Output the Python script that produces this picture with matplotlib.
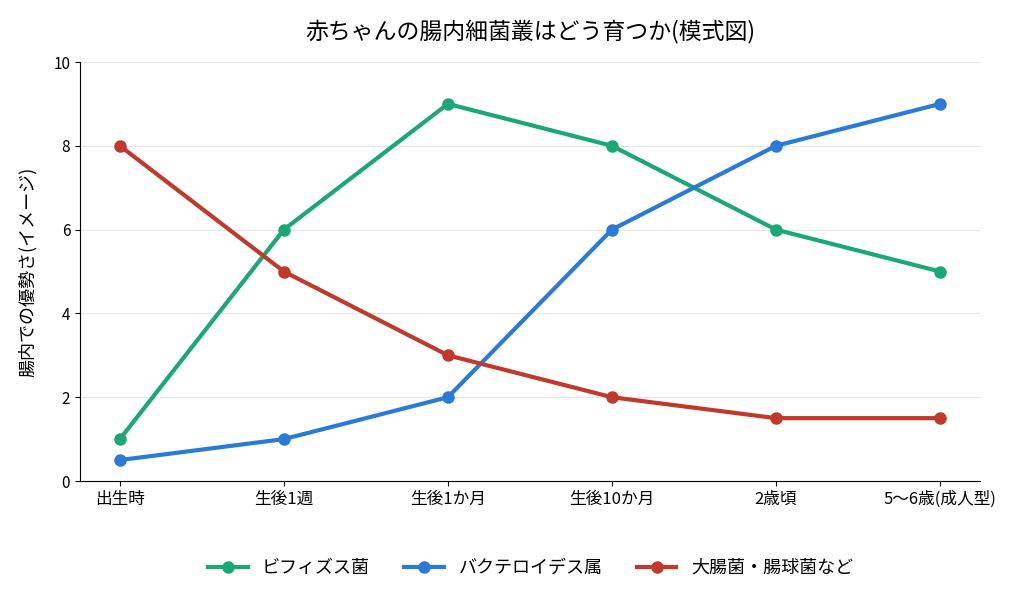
import numpy as np
import matplotlib.pyplot as plt

plt.rcParams['font.family'] = ['Noto Sans CJK JP', 'DejaVu Sans']

stages = ["出生時", "生後1週", "生後1か月", "生後10か月", "2歳頃", "5〜6歳(成人型)"]
bifido = [1, 6, 9, 8, 6, 5]
bacteroides = [0.5, 1, 2, 6, 8, 9]
coli = [8, 5, 3, 2, 1.5, 1.5]

series = [
    ("ビフィズス菌", bifido, "#1aa874"),
    ("バクテロイデス属", bacteroides, "#2a7bd8"),
    ("大腸菌・腸球菌など", coli, "#c0392b"),
]

fig = plt.figure(figsize=(10.24, 6.14), dpi=100)
ax = fig.add_axes([0.078, 0.2166, 0.879, 0.6824])

x = np.arange(len(stages))
for name, vals, col in series:
    ax.plot(x, vals, color=col, lw=3, marker="o", ms=8, label=name)

ax.set_xlim(-0.244, 5.244)
ax.set_ylim(0, 10)
ax.set_yticks([0, 2, 4, 6, 8, 10])
ax.set_xticks(x)
ax.set_xticklabels(stages)
ax.tick_params(axis="x", labelsize=12)
ax.tick_params(axis="y", labelsize=11)
ax.grid(axis="y", color="#e8e8e8", lw=0.8)
ax.set_axisbelow(True)
for s in ["top", "right"]:
    ax.spines[s].set_visible(False)

ax.set_ylabel("腸内での優勢さ(イメージ)", fontsize=13, labelpad=12)
ax.set_title("赤ちゃんの腸内細菌叢はどう育つか(模式図)", fontsize=16.5, pad=16)

fig.legend(loc="center", bbox_to_anchor=(0.518, 0.075), ncol=3, frameon=False,
           fontsize=13, handlelength=2.2, handletextpad=0.8, columnspacing=1.9)

fig.savefig("out.png", dpi=100)
